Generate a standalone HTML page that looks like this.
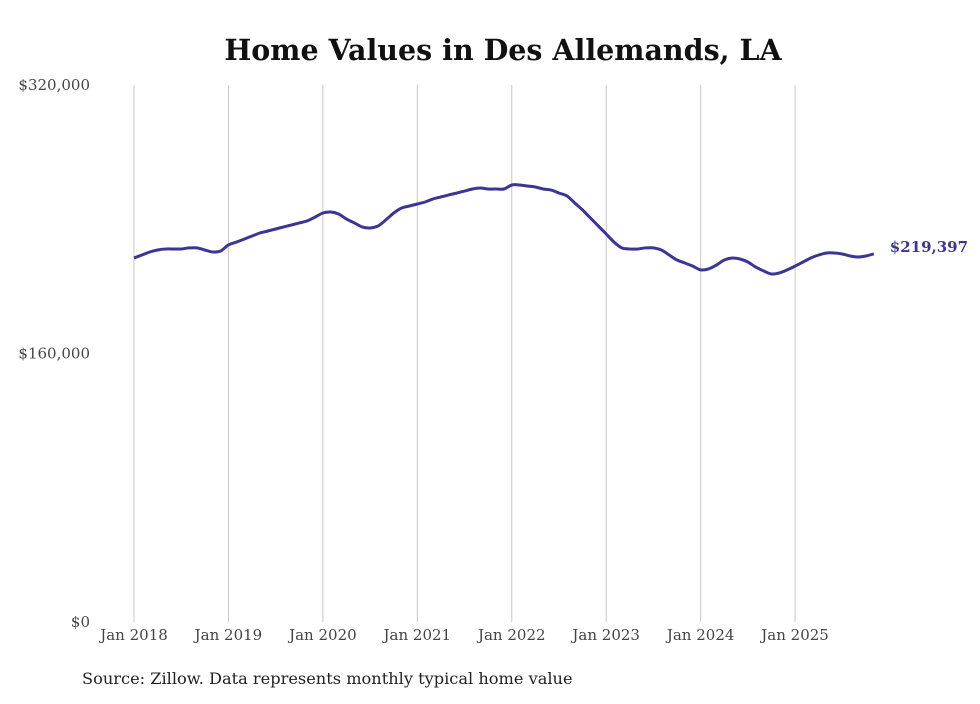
<!DOCTYPE html>
<html><head><meta charset="utf-8"><style>
body{margin:0;background:#fff;}
svg text{font-family:"DejaVu Serif","Liberation Serif",serif;}
</style></head><body>
<svg width="980" height="699" xmlns="http://www.w3.org/2000/svg">
<text x="503" y="60" text-anchor="middle" font-size="28.5" font-weight="bold" fill="#111">Home Values in Des Allemands, LA</text>
<g id="grid"></g><g id="yaxis"></g><g id="xaxis"></g>
<path id="line" fill="none" stroke="#3b3596" stroke-width="3" stroke-linejoin="round"/>
<text id="endlabel" font-size="15" font-weight="bold" fill="#3b3596"></text>
<text x="82" y="684" font-size="16.2" fill="#222">Source: Zillow. Data represents monthly typical home value</text>
</svg>
<script>
const yTicks=[0,160000,320000];
const yTickLabels=["$0","$160,000","$320,000"];
const xYears=[2018,2019,2020,2021,2022,2023,2024,2025];
const xTickLabels=["Jan 2018","Jan 2019","Jan 2020","Jan 2021","Jan 2022","Jan 2023","Jan 2024","Jan 2025"];
const startYear=2018;
const valuesK=[
216.9,218.7,220.5,221.7,222.3,222.3,222.3,222.9,222.9,221.7,220.5,221.1,
224.7,226.4,228.2,230.0,231.8,233.0,234.2,235.4,236.6,237.8,239.0,241.3,
243.7,244.3,243.1,240.1,237.8,235.4,234.8,236.0,239.6,243.7,246.7,247.9,
249.1,250.3,252.1,253.3,254.5,255.6,256.8,258.0,258.6,258.0,258.0,258.0,
260.4,260.4,259.8,259.2,258.0,257.4,255.6,253.9,249.7,245.5,240.7,236.0,
231.2,226.4,222.9,222.3,222.3,222.9,222.9,221.7,218.7,215.7,213.9,212.1,
209.8,210.4,212.7,215.7,216.9,216.3,214.5,211.5,209.2,207.4,208.0,209.8,
212.1,214.5,216.9,218.7,219.9,219.9,219.3,218.1,217.5,218.1,219.397];
const NS="http://www.w3.org/2000/svg";
const X0=134,MONTH=7.87,Y0=622,YTOP=85,YMAX=320000;
const xs=m=>X0+m*MONTH;
const ys=v=>Y0-(v/YMAX)*(Y0-YTOP);
function mk(t,a,p){const e=document.createElementNS(NS,t);for(const k in a)e.setAttribute(k,a[k]);document.getElementById(p).appendChild(e);return e;}
xYears.forEach((yr,i)=>{
  const x=xs((yr-startYear)*12);
  const l=mk('line',{x1:x,x2:x,y1:YTOP,y2:Y0,stroke:'#c8c8c8','stroke-width':1},'grid');
  
  
  const t=mk('text',{x:x,y:640,'text-anchor':'middle','font-size':15,fill:'#444'},'xaxis');
  t.textContent=xTickLabels[i];
  
  
});
yTicks.forEach((v,i)=>{
  const t=mk('text',{x:90,y:ys(v)+5,'text-anchor':'end','font-size':15,fill:'#444'},'yaxis');
  t.textContent=yTickLabels[i];
  
  
});
const pts=valuesK.map((v,i)=>[xs(i),ys(v*1000)]);
let d='M'+pts[0][0].toFixed(1)+','+pts[0][1].toFixed(1);
for(let i=0;i<pts.length-1;i++){
  const p0=pts[Math.max(0,i-1)],p1=pts[i],p2=pts[i+1],p3=pts[Math.min(pts.length-1,i+2)];
  const c1=[p1[0]+(p2[0]-p0[0])/6,p1[1]+(p2[1]-p0[1])/6];
  const c2=[p2[0]-(p3[0]-p1[0])/6,p2[1]-(p3[1]-p1[1])/6];
  d+='C'+c1[0].toFixed(1)+','+c1[1].toFixed(1)+' '+c2[0].toFixed(1)+','+c2[1].toFixed(1)+' '+p2[0].toFixed(1)+','+p2[1].toFixed(1);
}
document.getElementById('line').setAttribute('d',d);
const last=valuesK.length-1;
const lab=document.getElementById('endlabel');
lab.setAttribute('x',xs(last)+16);
lab.setAttribute('y',ys(valuesK[last]*1000)-2);
lab.textContent='$'+Math.round(valuesK[last]*1000).toLocaleString('en-US');
</script>
</body></html>
